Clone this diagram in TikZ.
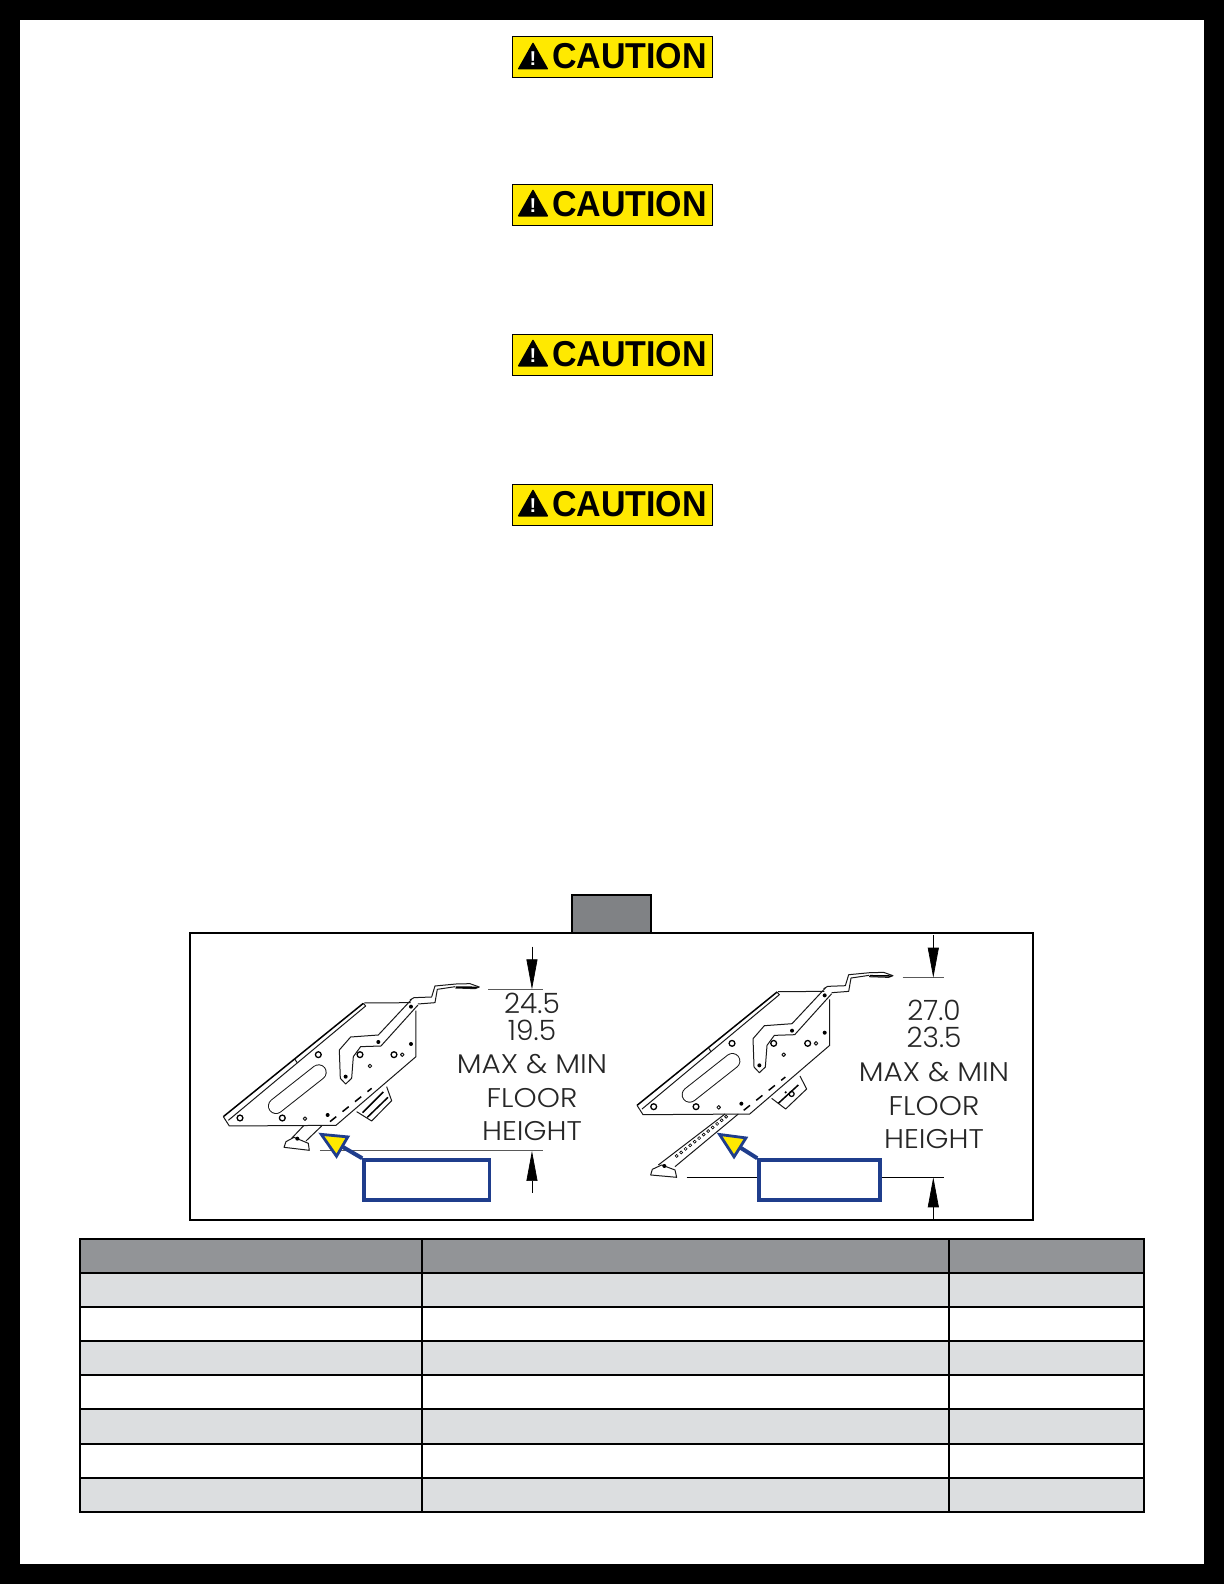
\documentclass[tikz,border=0pt]{standalone}
\usepackage{fontspec}
\newfontfamily\dimfont{Poppins Light}
\newfontfamily\signfont{Liberation Sans}
\usetikzlibrary{arrows.meta}
\usetikzlibrary{calc}
\definecolor{signyellow}{HTML}{FFE900}
\definecolor{calloutblue}{HTML}{1F3D8C}
\definecolor{tablehead}{HTML}{929497}
\definecolor{tablelight}{HTML}{DCDEE0}
\definecolor{tabgrey}{HTML}{808285}
\tikzset{
	partline/.style={black!90,line width=1pt,line join=round},
	heavyline/.style={black,line width=1.5pt},
	extline/.style={black!65,line width=.8pt},
	dimarrow/.style={black,line width=.7pt,-{Triangle[length=30pt,width=11pt]}},
	dimtext/.style={anchor=base,inner sep=0pt,xscale=1.09,text=black!85,font=\dimfont\fontsize{27}{27}\selectfont},
	dimnum/.style={anchor=base,inner sep=0pt,text=black!85,font=\dimfont\fontsize{28}{28}\selectfont},
	calloutbox/.style={draw=calloutblue,line width=3.5pt,fill=white,minimum height=40pt,inner sep=0pt},
	calloutarrow/.style={draw=calloutblue,line width=4pt,-{Triangle[length=29pt,width=26pt,line width=2.8pt,fill=signyellow]}},
	tablecell/.style={draw=black,line width=2pt},
}
% plate and handle, same for both brackets
\newcommand{\drawplate}{
	\draw[heavyline] (130,680) -- (550,340);
	\draw[partline] (145,691) -- (557,348) -- (550,340);
	\draw[partline] (130,680) -- (148,708) -- (468,706) -- (708,500) -- (708,362);
	\draw[partline] (553,339) -- (692,338);
	\draw[partline] (345,508) -- (352,519);
	\draw[partline] (690,330) -- (702,323) -- (755,321) -- (765,288) -- (828,282) -- (870,281) -- (898,291) -- (885,296) -- (826,294);
	\draw[heavyline] (828,291) -- (892,292);
	\draw[partline] (714,342) -- (765,338) -- (772,298) -- (826,290);
	% arm
	\draw[partline] (695,328) -- (595,435) -- (512,441) -- (478,480) -- (481,565) -- (497,582) -- (515,565) -- (520,500) -- (542,470) -- (603,468) -- (714,345);
	\draw[partline,double=white,double distance=14pt,line cap=round] (288,648) -- (416,547);
	\draw[heavyline,dash pattern=on 8pt off 8pt] (450,695) -- (575,595);
	\foreach \xpos/\ypos in {180/684,307/684,415/494,540/494,642/494}
		\draw[black,line width=1.3pt] (\xpos,\ypos) circle (2.9pt);
	\foreach \xpos/\ypos in {375/686,667/494,570/528}
		\draw[partline] (\xpos,\ypos) circle (1.8pt);
	\foreach \xpos/\ypos in {443/675,693/462,693/350,595/456,497/560}
		\fill[black] (\xpos,\ypos) circle (2pt);
}
\begin{document}
\begin{tikzpicture}[x=1pt,y=-1pt]
	\useasboundingbox (0,0) rectangle (1224,1584);
	\fill[black] (0,0) rectangle (1224,1584);
	\fill[white] (20,20) rectangle (1204,1564);
	% caution signs
	\foreach \ypos [count=\i] in {37,184,334,484} {
		\begin{scope}[shift={(512,\ypos)}]
			\node[draw=black,fill=signyellow,line width=1pt,minimum width=200pt,minimum height=41pt,inner sep=0pt] (sign\i) at (100,20.5) {};
			\fill[black,rounded corners=1pt] (5.5,32.5) -- (21,5) -- (36.5,32.5) -- cycle;
			\node[text=white,inner sep=0pt,font=\signfont\bfseries\fontsize{20}{20}\selectfont] (mark\i) at (21,21.5) {!};
			\node[xscale=.945,inner sep=0pt,anchor=base,font=\signfont\bfseries\fontsize{36}{36}\selectfont] (word\i) at (117.5,32) {CAUTION};
		\end{scope}
	}
	% figure box
	\draw[black,line width=2pt,fill=tabgrey] (572,895) rectangle (651,933);
	\draw[black,line width=2pt,fill=white] (190,933) rectangle (1032.5,1220);
	% left bracket
	\begin{scope}[shift={(180,890)},x=.3333pt,y=-.3333pt]
		\drawplate
		\draw[partline] (372,706) -- (335,745);
		\draw[partline] (425,708) -- (378,753);
		\draw[partline,fill=white] (312,772) -- (318,755) -- (342,742) -- (385,760) -- (388,781) -- cycle;
		\fill[black] (352,746) circle (2pt);
		\draw[partline] (530,665) -- (575,693) -- (635,632) -- (620,590);
		\draw[heavyline] (548,668) -- (610,606);
		\draw[heavyline] (562,682) -- (624,622);
		\draw[extline] (925,298) -- (1088,298);
		\draw[extline] (420,781) -- (1088,781);
		\coordinate (toptipl) at (1056,298);
		\coordinate (topendl) at (1056,170);
		\coordinate (bottipl) at (1056,783);
		\coordinate (botendl) at (1056,908);
		\coordinate (armtipl) at (415,728);
	\end{scope}
	% right bracket
	\begin{scope}[shift={(593.7,878.7)},x=.3333pt,y=-.3333pt]
		\drawplate
	\end{scope}
	\begin{scope}[shift={(620,890)},x=.3333pt,y=-.3333pt]
		\draw[partline] (115,825) -- (315,672);
		\draw[partline] (165,830) -- (355,672);
		\foreach \n in {0,...,11}
			\draw[black,line width=.6pt] ({170+\n*13.5},{798-\n*10.7}) circle (1.5pt);
		\draw[partline,fill=white] (92,855) -- (97,838) -- (125,825) -- (165,840) -- (170,862) -- cycle;
		\fill[black] (133,828) circle (2pt);
		\draw[partline] (455,625) -- (497,657) -- (560,597) -- (540,558);
		\draw[heavyline] (475,640) -- (535,585);
		\draw[black,line width=1.2pt] (515,612) circle (2.5pt);
		\fill[black] (497,607) circle (1.2pt);
		\draw[extline] (848,263) -- (972,263);
		\draw[black,line width=.8pt] (200,862) -- (972,862);
		\coordinate (toptipr) at (940,263);
		\coordinate (topendr) at (940,135);
		\coordinate (bottipr) at (940,862);
		\coordinate (botendr) at (940,987);
		\coordinate (armtipr) at (290,728);
	\end{scope}
	% dimension arrows
	\draw[dimarrow] (topendl) -- (toptipl);
	\draw[dimarrow] (botendl) -- (bottipl);
	\draw[dimarrow] (topendr) -- (toptipr);
	\draw[dimarrow] (botendr) -- (bottipr);
	% dimension texts
	\node[dimnum] (maxl) at (532,1013.3) {24.5};
	\node[dimnum] (minl) at (532,1040.7) {19.5};
	\foreach \line/\ypos in {MAX \& MIN/1073.3,FLOOR/1107.3,HEIGHT/1140.7}
		\node[dimtext] at (532,\ypos) {\line};
	\node[dimnum] (maxr) at (934,1020.7) {27.0};
	\node[dimnum] (minr) at (934,1047.7) {23.5};
	\foreach \line/\ypos in {MAX \& MIN/1081.3,FLOOR/1115.3,HEIGHT/1148.3}
		\node[dimtext] at (934,\ypos) {\line};
	% callouts
	\node[calloutbox,minimum width=125.5pt] (boxl) at (426.7,1180) {};
	\node[calloutbox,minimum width=121pt] (boxr) at (819.5,1180) {};
	\draw[calloutarrow] (boxl.north west) -- (armtipl);
	\draw[calloutarrow] (boxr.north west) -- (armtipr);
	% table
	\foreach \rowa/\rowb/\cellcol in {1238.7/1272.7/tablehead,1272.7/1306.7/tablelight,1306.7/1340.7/white,1340.7/1375/tablelight,1375/1408.7/white,1408.7/1443.7/tablelight,1443.7/1477.7/white,1477.7/1511.7/tablelight} {
		\foreach \cola/\colb in {80/422,422/949,949/1144}
			\draw[tablecell,fill=\cellcol] (\cola,\rowa) rectangle (\colb,\rowb);
	}
\end{tikzpicture}
\end{document}
